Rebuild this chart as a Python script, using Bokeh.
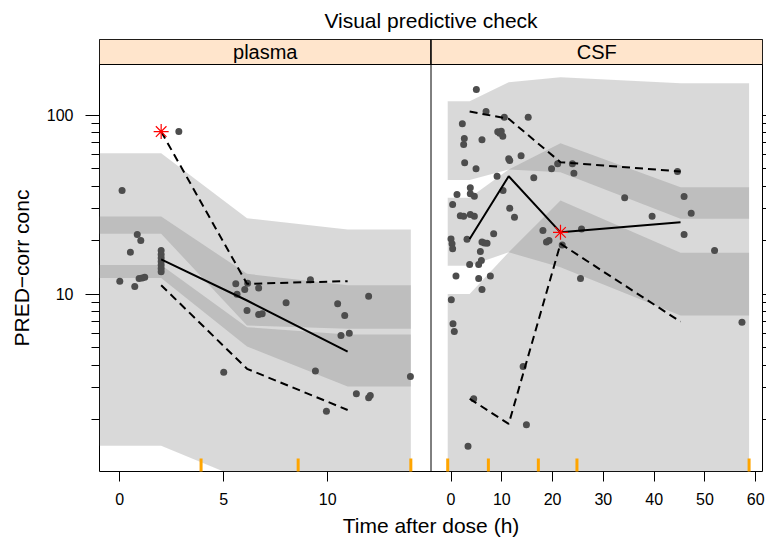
import numpy as np
from bokeh.plotting import figure
from bokeh.models import (Range1d, FixedTicker, LogAxis, Span, Title,
                          CustomJSTickFormatter, BasicTickFormatter)
from bokeh.core.properties import value
from bokeh.embed import file_html
from bokeh.resources import INLINE

# ---------------- data ----------------
# plasma observations
PL_T = [0.11, 0.0, 0.51, 0.72, 0.84, 1.01, 0.93, 1.08, 1.2,
        1.99, 1.99, 1.99, 1.99, 1.99, 1.99, 1.99, 2.84,
        5.0, 5.58, 5.64, 6.01, 6.15, 6.12, 6.68, 6.68, 6.85, 8.0,
        9.17, 9.41, 9.94, 10.48, 10.82, 10.64, 11.04, 11.38, 11.97, 11.97, 12.05, 13.98]
PL_V = [37.9, 11.8, 17.1, 11.0, 21.5, 19.9, 12.2, 12.3, 12.4,
        17.5, 16.6, 15.9, 15.2, 14.5, 13.9, 13.3, 80.8,
        3.66, 11.4, 9.97, 10.6, 11.5, 8.09, 10.8, 7.68, 7.75, 8.93,
        12.0, 3.71, 2.21, 8.82, 7.59, 5.86, 6.04, 2.77, 9.73, 2.63, 2.71, 3.46]

# plasma observed percentiles (bin midpoints)
PL_BIN_T = [1.99, 6.12, 10.96]
PL_MED = [15.6, 9.2, 4.77]
PL_P95 = [80.8, 11.4, 11.8]
PL_P05 = [11.2, 3.82, 2.25]
PL_STAR_T = [1.99]
PL_STAR_V = [80.8]

# plasma simulated CI bands
PL_BAND_T = [-1.0, 1.99, 6.12, 10.96, 14.0]
PL_HI_TOP = [61.2, 61.2, 26.5, 22.9, 22.9]
PL_HI_BOT = [21.7, 21.7, 6.67, 6.39, 6.39]
PL_MID_TOP = [27.1, 27.1, 12.96, 11.2, 11.2]
PL_MID_BOT = [12.3, 12.3, 5.09, 3.04, 3.04]
PL_LO_TOP = [14.5, 14.5, 6.53, 5.94, 5.94]
PL_LO_BOT = [1.42, 1.42, 0.9, 0.6, 0.6]
PL_BIN_EDGES = [3.91, 8.58, 14.0]

# CSF observations
CSF_T = [4.99, 6.9, 10.5, 15.2, 2.23, 2.62, 2.49, 6.1, 9.2, 9.9, 10.2, 9.6,
         2.69, 4.93, 11.36, 11.56, 13.8, 9.07, 16.3, 19.8, 21.0, 23.9, 24.2,
         3.8, 3.8, 4.6, 1.18, 0.32, 10.25, 11.56, 12.5, 1.83, 2.49, 3.8, 4.6,
         8.4, 3.15, 0.0, 0.2, 0.32, 6.1, 6.57, 7.1, 5.78, 5.98, 5.45, 3.67,
         5.45, 7.75, 0.98, 6.1, 0.06, 0.39, 0.65, 18.1, 18.8, 19.3, 21.9,
         25.7, 25.5, 34.2, 39.6, 44.6, 45.9, 47.3, 45.9, 51.9, 57.3,
         4.47, 3.35, 14.85, 14.2]
CSF_V = [138.8, 104.6, 97.2, 97.2, 89.3, 73.9, 68.4, 72.7, 80.5, 81.2, 76.1, 79.1,
         54.1, 50.1, 56.9, 55.7, 59.2, 45.5, 44.6, 50.1, 53.4, 53.4, 47.3,
         39.2, 36.3, 35.2, 36.0, 31.6, 37.9, 30.1, 26.8, 27.4, 27.2, 27.8, 27.2,
         21.7, 20.2, 20.3, 19.1, 17.9, 19.5, 19.3, 19.2, 17.3, 15.4, 14.6, 14.6,
         12.2, 12.6, 12.6, 10.6, 9.28, 6.82, 6.17, 22.6, 19.5, 19.9, 18.8,
         23.1, 12.2, 34.5, 27.2, 48.4, 35.0, 28.3, 21.5, 17.5, 6.96,
         2.60, 1.41, 1.86, 3.94]

CSF_BIN_T = [3.67, 11.36, 21.56, 45.2]
CSF_MED = [20.3, 45.5, 22.1, 25.2]
CSF_P95 = [104.6, 95.2, 54.5, 48.4]
CSF_P05 = [2.60, 1.88, 19.1, 7.0]
CSF_STAR_T = [21.56]
CSF_STAR_V = [22.1]

CSF_BAND_T = [-0.65, 3.67, 11.36, 21.56, 45.2, 58.7]
CSF_HI_TOP = [119.5, 119.5, 152.6, 162.7, 150.6, 150.6]
CSF_HI_BOT = [43.4, 43.4, 49.6, 47.9, 26.3, 26.3]
CSF_MID_TOP = [34.5, 34.5, 49.6, 69.6, 39.5, 39.5]
CSF_MID_BOT = [14.4, 14.4, 17.1, 14.1, 7.58, 7.58]
CSF_LO_TOP = [10.0, 10.0, 17.1, 33.3, 17.0, 17.0]
CSF_LO_BOT = [0.5, 0.5, 0.5, 0.5, 0.5, 0.5]
CSF_BIN_EDGES = [-0.65, 7.36, 17.2, 24.8, 58.7]

PL_XTICKS = [0, 5, 10]
CSF_XTICKS = [0, 10, 20, 30, 40, 50, 60]
Y_MAJOR = [10, 100]
Y_MINOR = [2, 3, 4, 5, 6, 7, 8, 9, 20, 30, 40, 50, 60, 70, 80, 90]

PANELS = ["plasma", "CSF"]
TITLE = "Visual predictive check"
XLAB = "Time after dose (h)"
YLAB = "PRED\u2212corr conc"

# ---------------- layout / style ----------------
FONT = "Liberation Sans"
PL_LIM = (-0.976, 14.97)
CSF_LIM = (-3.94, 61.34)
Y_LIM = (1.0195, 191.5)
W, H = 766, 542
ML, MR, MT, MB = 99, 4, 39, 71
STRIP_H = 25
PANEL_H = H - MT - MB - STRIP_H
px_per_dec = PANEL_H / np.log10(Y_LIM[1] / Y_LIM[0])
Y_TOP = Y_LIM[1] * 10 ** (STRIP_H / px_per_dec)
YLAB_CENTER_FROM_BOTTOM = PANEL_H / 2   # centre y label on the panel area
YLAB_LEN = 157                           # approx. rendered length of the y label

BAND_COLOR = "#7C7C7C"
BAND_ALPHA = 0.29
PT_COLOR = "#4D4D4D"
STRIP_COLOR = "#FFE5CC"

pl_span = PL_LIM[1] - PL_LIM[0]
csf_span = CSF_LIM[1] - CSF_LIM[0]

p = figure(width=W, height=H, y_axis_type="log",
           x_range=Range1d(PL_LIM[0], PL_LIM[0] + 2 * pl_span),
           y_range=Range1d(Y_LIM[0], Y_TOP),
           output_backend="svg", toolbar_location=None,
           min_border_left=ML, min_border_right=MR,
           min_border_top=MT, min_border_bottom=MB)
p.extra_x_ranges = {"csf": Range1d(CSF_LIM[1] - 2 * csf_span, CSF_LIM[1])}
p.xgrid.visible = False
p.ygrid.visible = False
p.outline_line_color = "black"
p.outline_line_width = 1
p.background_fill_color = "white"
p.border_fill_color = "white"

# bands
for (xs, bands, rn) in [
    (PL_BAND_T, [(PL_HI_BOT, PL_HI_TOP), (PL_MID_BOT, PL_MID_TOP), (PL_LO_BOT, PL_LO_TOP)], "default"),
    (CSF_BAND_T, [(CSF_HI_BOT, CSF_HI_TOP), (CSF_MID_BOT, CSF_MID_TOP), (CSF_LO_BOT, CSF_LO_TOP)], "csf"),
]:
    for lo, hi in bands:
        p.varea(x=xs, y1=lo, y2=hi, fill_color=BAND_COLOR, fill_alpha=BAND_ALPHA,
                x_range_name=rn)

# points
p.scatter(PL_T, PL_V, size=7, fill_color=PT_COLOR, line_color=None)
p.scatter(CSF_T, CSF_V, size=7, fill_color=PT_COLOR, line_color=None, x_range_name="csf")

# percentile lines
for xs, med, p95, p05, rn in [(PL_BIN_T, PL_MED, PL_P95, PL_P05, "default"),
                              (CSF_BIN_T, CSF_MED, CSF_P95, CSF_P05, "csf")]:
    p.line(xs, med, line_color="black", line_width=2, x_range_name=rn)
    p.line(xs, p95, line_color="black", line_width=2, line_dash="8 5", x_range_name=rn)
    p.line(xs, p05, line_color="black", line_width=2, line_dash="8 5", x_range_name=rn)

# flagged percentiles
p.scatter(PL_STAR_T, PL_STAR_V, marker="asterisk", size=15, line_color="red", line_width=1.2)
p.scatter(CSF_STAR_T, CSF_STAR_V, marker="asterisk", size=15, line_color="red", line_width=1.2,
          x_range_name="csf")

# bin boundaries (rug at bottom)
p.rect(x=PL_BIN_EDGES, y=[Y_LIM[0]] * len(PL_BIN_EDGES), width=3, height=26,
       width_units="screen", height_units="screen", fill_color="orange", line_color=None)
p.rect(x=CSF_BIN_EDGES, y=[Y_LIM[0]] * len(CSF_BIN_EDGES), width=3, height=26,
       width_units="screen", height_units="screen", fill_color="orange", line_color=None,
       x_range_name="csf")

# strips
y_strip_mid = float(np.sqrt(Y_LIM[1] * Y_TOP))
p.quad(left=[PL_LIM[0]], right=[PL_LIM[1]], bottom=[Y_LIM[1]], top=[Y_TOP],
       fill_color=STRIP_COLOR, line_color="black", line_width=1)
p.quad(left=[CSF_LIM[0]], right=[CSF_LIM[1]], bottom=[Y_LIM[1]], top=[Y_TOP],
       fill_color=STRIP_COLOR, line_color="black", line_width=1, x_range_name="csf")
p.text(x=[(PL_LIM[0] + PL_LIM[1]) / 2], y=[y_strip_mid], text=[PANELS[0]],
       text_font=value(FONT), text_font_size="20px", text_align="center",
       text_baseline="middle", text_color="black")
p.text(x=[(CSF_LIM[0] + CSF_LIM[1]) / 2], y=[y_strip_mid], text=[PANELS[1]],
       text_font=value(FONT), text_font_size="20px", text_align="center",
       text_baseline="middle", text_color="black", x_range_name="csf")

# panel divider
p.add_layout(Span(location=PL_LIM[1], dimension="height", line_color="black", line_width=1))

# x axis (one axis, both panels)
def csf_to_default(t):
    return PL_LIM[1] + (t - CSF_LIM[0]) * pl_span / csf_span

tick_pos = [float(t) for t in PL_XTICKS] + [csf_to_default(t) for t in CSF_XTICKS]
tick_lab = [str(t) for t in PL_XTICKS] + [str(t) for t in CSF_XTICKS]
xa = p.xaxis[0]
xa.ticker = FixedTicker(ticks=tick_pos, minor_ticks=[])
xa.formatter = CustomJSTickFormatter(args=dict(pos=tick_pos, lab=tick_lab), code="""
let best = 0, bd = Infinity;
for (let i = 0; i < pos.length; i++) { const d = Math.abs(pos[i] - tick); if (d < bd) { bd = d; best = i; } }
return lab[best];
""")
xa.axis_line_color = None
xa.major_tick_out = 10
xa.major_tick_in = 0
xa.major_tick_line_color = "black"
xa.major_label_standoff = 11
xa.major_label_text_font = FONT
xa.major_label_text_font_size = "16px"
xa.major_label_text_color = "black"
xa.axis_label = XLAB
xa.axis_label_text_font = FONT
xa.axis_label_text_font_size = "21px"
xa.axis_label_text_font_style = "normal"
xa.axis_label_text_color = "black"
xa.axis_label_standoff = 6

# left y axis
ya = p.yaxis[0]
ya.ticker = FixedTicker(ticks=Y_MAJOR, minor_ticks=Y_MINOR)
ya.formatter = BasicTickFormatter(use_scientific=False)
ya.axis_line_color = None
ya.major_tick_out = 14
ya.major_tick_in = 0
ya.minor_tick_out = 8
ya.minor_tick_in = 0
ya.major_tick_line_color = "black"
ya.minor_tick_line_color = "black"
ya.major_label_standoff = 12
ya.major_label_text_font = FONT
ya.major_label_text_font_size = "16px"
ya.major_label_text_color = "black"

# y label, centred on the panel area (below the strips)
p.add_layout(Title(text=YLAB, align="left", vertical_align="top",
                   offset=YLAB_CENTER_FROM_BOTTOM - YLAB_LEN / 2,
                   text_font=FONT, text_font_size="21px", text_font_style="normal",
                   text_color="black", standoff=17), "left")

# right y axis: ticks only
yr = LogAxis(ticker=FixedTicker(ticks=Y_MAJOR, minor_ticks=Y_MINOR),
             formatter=CustomJSTickFormatter(code="return '';"))
yr.axis_line_color = None
yr.major_tick_out = 4
yr.major_tick_in = 0
yr.minor_tick_out = 4
yr.minor_tick_in = 0
yr.major_label_standoff = 0
yr.major_label_text_font_size = "1px"
p.add_layout(yr, "right")

# title
p.title.text = TITLE
p.title.align = "center"
p.title.vertical_align = "top"
p.title.text_font = FONT
p.title.text_font_size = "21px"
p.title.text_font_style = "normal"
p.title.text_color = "black"
p.title.standoff = 12

open("out.html", "w").write(file_html(p, INLINE))
